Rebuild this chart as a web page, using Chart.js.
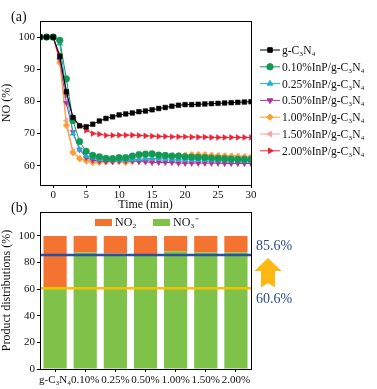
<!DOCTYPE html>
<html>
<head>
<meta charset="utf-8">
<script src="https://cdn.jsdelivr.net/npm/chart.js@4.4.1/dist/chart.umd.min.js"></script>
<style>
body { margin: 0; background: #fff; }
#wrap { position: relative; width: 377px; height: 389px; }
canvas { position: absolute; left: 0; }
#chart-a { top: 0; }
#chart-b { top: 200px; }
</style>
</head>
<body>
<div id="wrap">
<canvas id="chart-a" width="377" height="212"></canvas>
<canvas id="chart-b" width="377" height="189"></canvas>
</div>
<script>
// ---- (a) NO removal vs time ----
var timeMin = [-2,-1,0,1,2,3,4,5,6,7,8,9,10,11,12,13,14,15,16,17,18,19,20,21,22,23,24,25,26,27,28,29,30];
var timeTicks = [0,5,10,15,20,25,30];
var noTicks = [60,70,80,90,100];

var gC3N4   = [100,100,100,94,83,75,72.4,72.1,72.9,73.9,74.7,75.2,75.8,76.1,76.4,76.8,77.0,77.4,77.8,78.1,78.5,78.8,79.0,79.0,79.1,79.2,79.3,79.4,79.5,79.6,79.7,79.8,79.9];
var inp010  = [100,100,100,99,87,74,67.5,64.5,63.2,62.8,62.3,62.2,62.5,62.5,63.0,63.5,63.6,63.7,63.3,63.2,63.0,63.0,62.8,62.7,62.6,62.5,62.4,62.3,62.2,62.1,62.0,62.0,62.0];
var inp025  = [100,100,100,98,83,70,65,63,62.5,62,62,61.8,61.8,61.8,61.9,62,62.2,62.3,62.2,62.1,62,62,62,61.9,61.9,61.8,61.8,61.7,61.7,61.6,61.6,61.5,61.5];
var inp050  = [100,100,100,93,79.5,70.5,65,62.5,61.7,61.5,61.3,61.3,61.5,61.5,61.5,61.3,61.2,61,61,61,61,60.8,60.8,60.8,60.8,60.8,60.8,60.8,60.7,60.7,60.7,60.7,60.7];
var inp100  = [100,100,100,92,72.5,64,62.2,61.5,61,61,61.2,61.3,61.3,61,61.3,61.5,61.8,62,62.3,62.5,62.8,63,63.2,63.4,63.5,63.4,63.2,63.1,63,62.9,62.8,62.7,62.6];
var inp150  = [100,100,100,93,74,64.5,62.3,61.8,61.5,61.3,61.5,61.6,61.8,62,62.2,62.5,62.8,63,63.2,63.3,63.3,63.4,63.4,63.4,63.4,63.3,63.3,63.2,63.2,63.1,63.1,63,63];
var inp200  = [100,100,100,94.5,82,75,72.5,71,70,69.8,69.4,69.4,69.5,69.5,69.5,69.4,69.3,69.2,69.1,69.1,69,69,69,68.9,68.9,68.9,68.8,68.8,68.8,68.8,68.8,68.8,68.8];

// ---- (b) product distributions ----
var samples = ['g-C\u2083N\u2084','0.10%','0.25%','0.50%','1.00%','1.50%','2.00%'];
var no3Share = [60.6, 87.8, 86.8, 86.0, 88.5, 87.8, 87.8];
var no2Share = [39.4, 12.2, 13.2, 14.0, 11.5, 12.2, 12.2];
var distTicks = [0,20,40,60,80,100];
var refLines = [85.6, 60.6];

var serif = '"Liberation Serif", "Times New Roman", serif';
Chart.defaults.font.family = serif;
Chart.defaults.font.size = 12;
Chart.defaults.color = '#111';

function pairs(ys) {
	return timeMin.map(function(t, i) { return { x: t, y: ys[i] }; });
}

function series(label, ys, color, style, rot) {
	return {
		label: label,
		data: pairs(ys),
		borderColor: color,
		backgroundColor: color,
		borderWidth: 1,
		pointStyle: style,
		rotation: rot,
		pointRadius: 3.3,
		pointBorderWidth: 0.5,
		tension: 0
	};
}

var frame = {
	id: 'frame',
	afterDraw: function(chart) {
		var a = chart.chartArea, c = chart.ctx;
		c.save();
		c.strokeStyle = '#000';
		c.lineWidth = 1;
		c.strokeRect(a.left + 0.5, a.top + 0.5, a.right - a.left, a.bottom - a.top);
		c.restore();
	}
};

var sideLegend = {
	id: 'sideLegend',
	afterDraw: function(chart) {
		var c = chart.ctx;
		var x0 = chart.chartArea.right + 9;
		c.save();
		chart.data.datasets.forEach(function(ds, i) {
			var y = 50 + i * 16.8;
			c.strokeStyle = ds.borderColor;
			c.lineWidth = 1;
			c.beginPath();
			c.moveTo(x0, y);
			c.lineTo(x0 + 20, y);
			c.stroke();
			c.fillStyle = ds.backgroundColor;
			c.strokeStyle = ds.borderColor;
			Chart.helpers.drawPoint(c, { pointStyle: ds.pointStyle, rotation: ds.rotation, radius: 3.2, borderWidth: 0.5 }, x0 + 10, y);
			c.fillStyle = '#111';
			c.font = '11.5px ' + serif;
			c.textBaseline = 'middle';
			c.fillText(ds.label, x0 + 22, y + 1);
		});
		c.restore();
	}
};

var tagA = {
	id: 'tagA',
	afterDraw: function(chart) {
		var c = chart.ctx;
		c.save();
		c.fillStyle = '#111';
		c.font = '14px ' + serif;
		c.textBaseline = 'middle';
		c.fillText('(a)', 11, 17);
		c.restore();
	}
};

new Chart(document.getElementById('chart-a').getContext('2d'), {
	type: 'line',
	data: {
		datasets: [
			series('g-C\u2083N\u2084', gC3N4, '#000000', 'rect', 0),
			series('0.10%InP/g-C\u2083N\u2084', inp010, '#129a55', 'circle', 0),
			series('0.25%InP/g-C\u2083N\u2084', inp025, '#19b3d4', 'triangle', 0),
			series('0.50%InP/g-C\u2083N\u2084', inp050, '#b12f9e', 'triangle', 180),
			series('1.00%InP/g-C\u2083N\u2084', inp100, '#ff9f2c', 'rectRot', 0),
			series('1.50%InP/g-C\u2083N\u2084', inp150, '#f6a2a9', 'triangle', -90),
			series('2.00%InP/g-C\u2083N\u2084', inp200, '#ee2436', 'triangle', 90)
		]
	},
	options: {
		responsive: false,
		animation: false,
		layout: { padding: { left: 0, right: 126, top: 21, bottom: 0 } },
		plugins: { legend: { display: false }, tooltip: { enabled: false } },
		scales: {
			x: {
				type: 'linear',
				min: -2,
				max: 30,
				afterBuildTicks: function(s) { s.ticks = timeTicks.map(function(v) { return { value: v }; }); },
				afterFit: function(s) { s.height = 27; },
				ticks: { padding: 1, maxRotation: 0, font: { size: 11 } },
				grid: { drawOnChartArea: false, tickLength: 3, color: '#000' },
				border: { color: '#000' },
				title: { display: true, text: 'Time (min)', padding: 0, font: { size: 12 } }
			},
			y: {
				min: 54,
				max: 105,
				afterBuildTicks: function(s) { s.ticks = noTicks.map(function(v) { return { value: v }; }); },
				afterFit: function(s) { s.width = 40; },
				ticks: { padding: 2, font: { size: 11 } },
				grid: { drawOnChartArea: false, tickLength: 3, color: '#000' },
				border: { color: '#000' },
				title: { display: true, text: 'NO (%)', padding: 0, font: { size: 12 } }
			}
		}
	},
	plugins: [frame, sideLegend, tagA]
});

// ---- chart (b) ----
var extras = {
	id: 'extras',
	afterDatasetsDraw: function(chart) {
		var c = chart.ctx, a = chart.chartArea, ys = chart.scales.y;
		var colors = ['#2d4e9e', '#f7c000'];
		c.save();
		refLines.forEach(function(v, i) {
			var py = ys.getPixelForValue(v);
			c.strokeStyle = colors[i];
			c.lineWidth = 2.5;
			c.beginPath();
			c.moveTo(a.left, py);
			c.lineTo(a.right, py);
			c.stroke();
		});
		c.restore();
	},
	afterDraw: function(chart) {
		var c = chart.ctx, a = chart.chartArea, ys = chart.scales.y;
		c.save();
		// value labels
		c.fillStyle = '#2c4e8e';
		c.font = '14px ' + serif;
		c.textBaseline = 'middle';
		var yHi = ys.getPixelForValue(refLines[0]);
		var yLo = ys.getPixelForValue(refLines[1]);
		c.fillText(refLines[0].toFixed(1) + '%', a.right + 5, yHi - 9);
		c.fillText(refLines[1].toFixed(1) + '%', a.right + 5, yLo + 11);
		// up arrow
		var cx = a.right + 17, top = yHi + 3, bot = yLo - 1;
		c.fillStyle = '#ffb812';
		c.beginPath();
		c.moveTo(cx, top);
		c.lineTo(cx + 13.5, top + 13);
		c.lineTo(cx + 7, top + 13);
		c.lineTo(cx + 7, bot);
		c.lineTo(cx, bot - 4);
		c.lineTo(cx - 7, bot);
		c.lineTo(cx - 7, top + 13);
		c.lineTo(cx - 13.5, top + 13);
		c.closePath();
		c.fill();
		// inner legend
		var ds = chart.data.datasets;
		var items = [ds[1], ds[0]];
		var lx = [a.left + 55, a.left + 113];
		c.font = '12px ' + serif;
		c.textBaseline = 'middle';
		items.forEach(function(d, i) {
			c.fillStyle = d.backgroundColor;
			c.fillRect(lx[i], a.top + 7, 17, 7);
			c.fillStyle = '#111';
			c.fillText(d.label, lx[i] + 20, a.top + 11);
		});
		// (b)
		c.font = '14px ' + serif;
		c.fillText('(b)', 11, 8);
		c.restore();
	}
};

new Chart(document.getElementById('chart-b').getContext('2d'), {
	type: 'bar',
	data: {
		labels: samples,
		datasets: [
			{ label: 'NO\u2083\u207B', data: no3Share, backgroundColor: '#7fc24a', borderWidth: 0, barPercentage: 0.77, categoryPercentage: 1 },
			{ label: 'NO\u2082', data: no2Share, backgroundColor: '#f47330', borderWidth: 0, barPercentage: 0.77, categoryPercentage: 1 }
		]
	},
	options: {
		responsive: false,
		animation: false,
		layout: { padding: { left: 0, right: 126, top: 12, bottom: 0 } },
		plugins: { legend: { display: false }, tooltip: { enabled: false } },
		scales: {
			x: {
				stacked: true,
				afterFit: function(s) { s.height = 20; },
				ticks: { padding: 2, maxRotation: 0, autoSkip: false, font: { size: 11 } },
				grid: { display: true, drawOnChartArea: false, tickLength: 3, color: '#000', offset: false },
				border: { color: '#000' }
			},
			y: {
				stacked: true,
				min: 0,
				max: 118,
				afterBuildTicks: function(s) { s.ticks = distTicks.map(function(v) { return { value: v }; }); },
				afterFit: function(s) { s.width = 40; },
				ticks: { padding: 2, font: { size: 11 } },
				grid: { drawOnChartArea: false, tickLength: 3, color: '#000' },
				border: { color: '#000' },
				title: { display: true, text: 'Product distributions (%)', padding: 0, font: { size: 12 } }
			}
		}
	},
	plugins: [frame, extras]
});
</script>
</body>
</html>
